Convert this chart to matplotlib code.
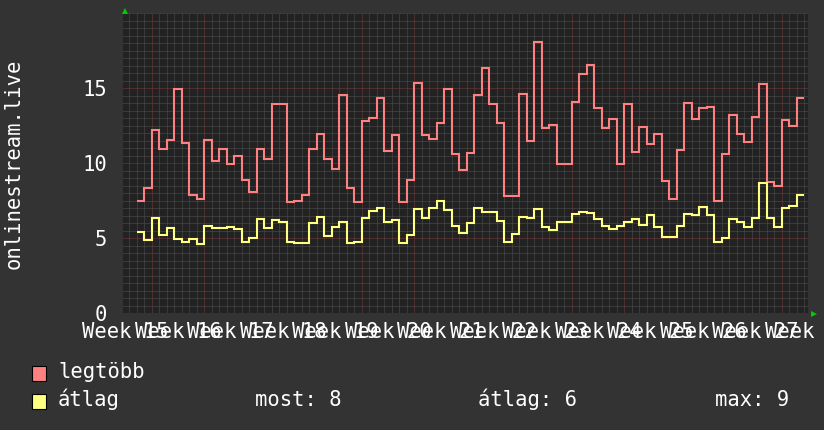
import matplotlib
matplotlib.use('Agg')
import matplotlib.pyplot as plt
import numpy as np
from matplotlib.patches import Rectangle
from matplotlib.ticker import MultipleLocator, FixedLocator
import matplotlib.transforms as mtransforms

# ---------------- data ----------------
start_day = -2  # days relative to first week gridline
legtobb = [7.5, 8.33, 12.22, 10.96, 11.56, 14.96, 11.38, 7.89, 7.6, 11.56,
           10.18, 10.96, 9.96, 10.51, 8.89, 8.07, 10.96, 10.29, 13.96, 13.96,
           7.44, 7.51, 7.89, 10.96, 11.96, 10.29, 9.62, 14.56, 8.38, 7.4,
           12.82, 13.04, 14.38, 10.84, 11.89, 7.44, 8.89, 15.33, 11.89, 11.62,
           12.67, 14.96, 10.6, 9.56, 10.67, 14.56, 16.38, 13.96, 12.67, 7.82,
           7.82, 14.62, 11.49, 18.07, 12.38, 12.56, 9.93, 9.93, 14.11, 15.93,
           16.56, 13.71, 12.38, 12.96, 9.96, 13.96, 10.78, 12.44, 11.29, 11.96,
           8.84, 7.62, 10.89, 14.0, 12.96, 13.71, 13.78, 7.51, 10.6, 13.22,
           11.96, 11.4, 13.11, 15.29, 8.78, 8.51, 12.89, 12.51, 14.38]
atlag = [5.4, 4.89, 6.33, 5.22, 5.71, 4.93, 4.73, 4.96, 4.62, 5.82,
         5.71, 5.71, 5.78, 5.62, 4.73, 5.0, 6.29, 5.67, 6.22, 6.07,
         4.73, 4.67, 4.67, 6.0, 6.4, 5.18, 5.73, 6.07, 4.67, 4.78,
         6.33, 6.84, 7.0, 6.11, 6.22, 4.67, 5.22, 6.96, 6.38, 7.0,
         7.49, 6.89, 5.84, 5.33, 6.0, 7.0, 6.78, 6.78, 6.18, 4.73,
         5.29, 6.4, 6.33, 6.96, 5.73, 5.56, 6.11, 6.11, 6.62, 6.78,
         6.71, 6.27, 5.84, 5.62, 5.84, 6.11, 6.27, 5.89, 6.56, 5.78,
         5.11, 5.11, 5.82, 6.62, 6.56, 7.11, 6.56, 4.73, 5.0, 6.27,
         6.11, 5.73, 6.38, 8.71, 6.38, 5.73, 7.04, 7.18, 7.89]
week_numbers = list(range(15, 29))
y_ticks = [0, 5, 10, 15]
series_labels = ['legtöbb', 'átlag']
stats_labels = ['most: 8', 'átlag: 6', 'max: 9']
y_title = 'onlinestream.live'

# ---------------- style ----------------
W, H = 824, 430
BG = '#333333'
PLOT_BG = '#222222'
RED = '#ff8080'
YEL = '#ffff80'
FONT = 'DejaVu Sans Mono'
FS = 14.8

fig = plt.figure(figsize=(W / 100, H / 100), dpi=100, facecolor=BG)
ax_left, ax_right, ax_top, ax_bottom = 123.3, 808.3, 13.3, 313.3
ax = fig.add_axes([ax_left / W, 1 - ax_bottom / H,
                   (ax_right - ax_left) / W, (ax_bottom - ax_top) / H])
ax.set_facecolor(PLOT_BG)
ax.set_xlim(-3.787, 87.547)
ax.set_ylim(0, 20)

ax.xaxis.set_major_locator(FixedLocator(list(range(0, 88, 7))))
ax.xaxis.set_minor_locator(MultipleLocator(1))
ax.yaxis.set_major_locator(FixedLocator(y_ticks))
ax.yaxis.set_minor_locator(MultipleLocator(0.5))
ax.set_axisbelow(True)
ax.grid(which='minor', color='#535353', ls=(0, (1, 1)), lw=0.72)
ax.grid(which='major', color='#7a3a3a', ls=(0, (1, 1)), lw=0.72)
for s in ax.spines.values():
    s.set_visible(False)
ax.tick_params(which='both', length=0)
ax.tick_params(axis='x', labelbottom=False)
ax.tick_params(axis='y', labelcolor='white', labelsize=FS, pad=11.5)
for lbl in ax.get_yticklabels():
    lbl.set_family(FONT)

edges = np.arange(start_day, start_day + len(legtobb) + 1)
ax.stairs(legtobb, edges, baseline=None, color=RED, lw=1.5, zorder=3)
ax.stairs(atlag, edges, baseline=None, color=YEL, lw=1.5, zorder=3)

# week labels
trans = mtransforms.blended_transform_factory(ax.transData, ax.transAxes)
for i, wk in enumerate(week_numbers):
    ax.text(-3.5 + 7 * i, -(338.3 - ax_bottom) / 300, f'Week {wk}',
            transform=trans, ha='center', va='baseline', fontsize=FS,
            color='white', family=FONT, clip_on=False)

# green arrows
ax.plot([0.0025], [1.0083], marker='^', color='#00cc00', ms=5, mew=0,
        transform=ax.transAxes, clip_on=False)
ax.plot([1.0083], [-0.002], marker='>', color='#00cc00', ms=5, mew=0,
        transform=ax.transAxes, clip_on=False)

# y title
fig.text(14 / W, 1 - 163.5 / H, y_title, rotation=90, ha='center',
         va='center', fontsize=FS, color='white', family=FONT)

# legend
for (label, col, ytop, base) in [(series_labels[0], RED, 366, 378.5),
                                  (series_labels[1], YEL, 394, 406.5)]:
    fig.patches.append(Rectangle((32 / W, 1 - (ytop + 15) / H), 14 / W, 15 / H,
                                 facecolor=col, edgecolor='black', lw=0.8,
                                 transform=fig.transFigure, figure=fig))
    fig.text(58 / W, 1 - base / H, label, ha='left', va='baseline',
             fontsize=FS, color='white', family=FONT)
for x, txt in zip([255, 478, 715], stats_labels):
    fig.text(x / W, 1 - 406.5 / H, txt, ha='left', va='baseline',
             fontsize=FS, color='white', family=FONT)

fig.savefig('out.png', dpi=100, facecolor=BG)
